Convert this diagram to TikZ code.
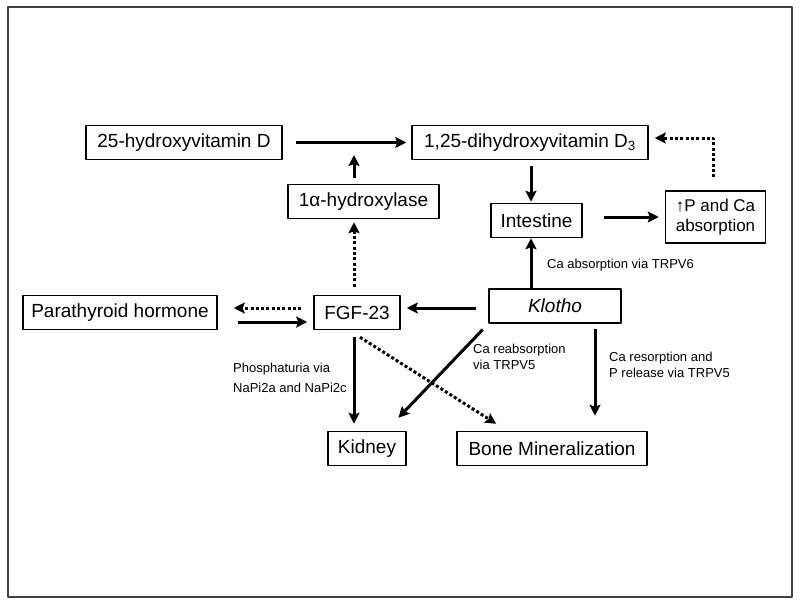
\documentclass[tikz,border=0pt]{standalone}
\usepackage{fontspec}
\setmainfont{Liberation Sans}
\usetikzlibrary{arrows.meta}
\tikzset{
  box/.style={draw, line width=1.5pt, minimum height=34pt, inner sep=0pt, font=\fontsize{19}{20}\selectfont, align=center},
  arr/.style={line width=3pt, -{Stealth[length=11pt,width=11pt,inset=2pt]}},
  dots/.style={arr, dash pattern=on 3pt off 2.3pt},
  lbl/.style={font=\fontsize{13}{16}\selectfont, align=left, inner sep=0pt, anchor=west}
}
\begin{document}
\begin{tikzpicture}[x=1pt, y=-1pt, line join=round]
\useasboundingbox (0,0) rectangle (800,605);
\draw[black!75, line width=1.6pt] (8,7) rectangle (792,597);
% boxes
\node[box, minimum width=196pt] (d25) at (184,142.5) {25-hydroxyvitamin D};
\node[box, minimum width=236pt] (d125) at (530,142.5) {1,25-dihydroxyvitamin D\textsubscript{3}};
\node[box, minimum width=151pt] (hydrox) at (363.5,201.5) {1α-hydroxylase};
\node[box, minimum width=91pt] (intestine) at (536.5,220.5) {Intestine};
\node[box, minimum width=100pt, minimum height=52pt, font=\fontsize{17}{20}\selectfont] (absorb) at (715.5,217) {↑P and Ca\\absorption};
\node[box, minimum width=194pt] (pth) at (120,312.5) {Parathyroid hormone};
\node[box, minimum width=86pt] (fgf) at (357,312.5) {FGF-23};
\node[box, minimum width=132pt] (klotho) at (555,306) {\itshape Klotho};
\node[box, minimum width=78pt] (kidney) at (367,448.5) {Kidney};
\node[box, minimum width=190pt] (bone) at (552,448.5) {Bone Mineralization};
% helper coordinates
\coordinate (join) at (354,155);
\coordinate (col) at (531,0);
\coordinate (back) at (713,138);
\coordinate (r1) at (0,308);
\coordinate (r2) at (0,322);
\coordinate (col3) at (595,0);
% connectors
\draw[arr, shorten <=13pt, shorten >=5pt] (d25) -- (d125);
\draw[arr, shorten <=6pt] (hydrox.north -| join) -- (join);
\draw[dots, shorten <=8pt, shorten >=3pt] (fgf.north -| join) -- (hydrox.south -| join);
\draw[arr, shorten <=6pt, shorten >=1pt] (d125.south -| col) -- (intestine.north -| col);
\draw[arr, shorten <=21pt, shorten >=6pt] (intestine.east |- absorb.west) -- (absorb.west);
\draw[dots, shorten <=13pt, shorten >=6pt] (absorb.north -| back) |- (d125.east |- back);
\draw[arr] (klotho.north -| col) -- (intestine.south -| col);
\draw[arr, shorten <=12pt, shorten >=6pt] (klotho.west |- r1) -- (fgf.east |- r1);
\draw[dots, shorten <=12pt, shorten >=16pt] (fgf.west |- r1) -- (pth.east |- r1);
\draw[arr, shorten <=20pt, shorten >=6pt] (pth.east |- r2) -- (fgf.west |- r2);
\draw[arr, shorten <=7pt, shorten >=7pt] (fgf.south -| join) -- (kidney.north -| join);
\draw[dots, shorten <=13pt, shorten >=13pt] ([xshift=-8pt]fgf.south) -- ([xshift=51pt]bone.north west);
\draw[arr, shorten <=8pt, shorten >=18pt] (klotho.south west) -- ([xshift=19pt]kidney.north);
\draw[arr, shorten <=5pt, shorten >=15pt] (klotho.south -| col3) -- (bone.north -| col3);
% labels
\node[lbl] (via6) at (547,265) {Ca absorption via TRPV6};
\node[lbl, font=\fontsize{13}{20}\selectfont] (napi) at (233,378) {Phosphaturia via\\NaPi2a and NaPi2c};
\node[lbl] (reabs) at (473,357) {Ca reabsorption\\via TRPV5};
\node[lbl] (resorp) at (609,364.5) {Ca resorption and\\P release via TRPV5};
\end{tikzpicture}
\end{document}
